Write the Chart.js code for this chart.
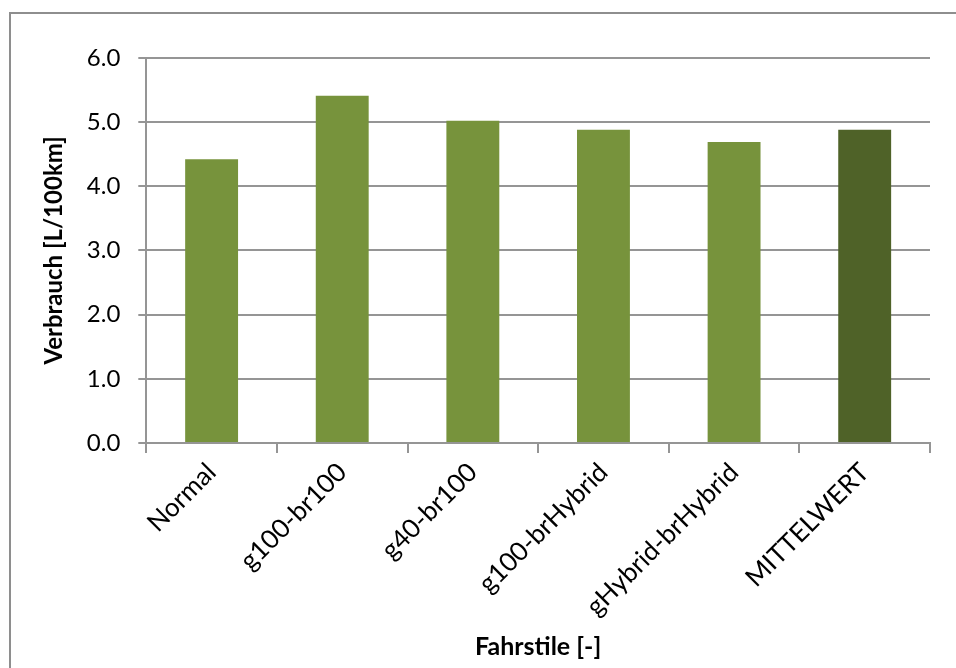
<!DOCTYPE html>
<html lang="de">
<head>
  <meta charset="UTF-8" />
  <title>Verbrauch nach Fahrstil</title>
  <script src="https://cdn.jsdelivr.net/npm/chart.js"></script>
  <style>
    html, body {
      margin: 0;
      padding: 0;
      background: #fff;
      overflow: hidden;
    }

    .frame {
      position: absolute;
      left: 9px;
      top: 12px;
      width: 1000px;
      height: 700px;
      border: 2px solid #8e8e8e;
      box-sizing: border-box;
    }

    .chart-box {
      position: absolute;
      left: 0;
      top: 0;
      width: 956px;
      height: 668px;
    }
  </style>
</head>
<body>
  <div class="frame"></div>
  <div class="chart-box">
    <canvas id="chart"></canvas>
  </div>

  <script>
    const fahrstile = ['Normal', 'g100-br100', 'g40-br100', 'g100-brHybrid', 'gHybrid-brHybrid', 'MITTELWERT'];
    const verbrauch = [4.42, 5.41, 5.02, 4.88, 4.69, 4.88];
    const barColors = ['#77933C', '#77933C', '#77933C', '#77933C', '#77933C', '#4F6228'];

    const fontFamily = "Lato, 'Open Sans', sans-serif";
    const gridColor = '#959595';

    const ctx = document.getElementById('chart').getContext('2d');
    new Chart(ctx, {
      type: 'bar',
      data: {
        labels: fahrstile,
        datasets: [{
          label: 'Verbrauch',
          data: verbrauch,
          backgroundColor: barColors,
          borderWidth: 0,
          barPercentage: 0.405,
          categoryPercentage: 1.0
        }]
      },
      options: {
        responsive: true,
        maintainAspectRatio: false,
        animation: false,
        layout: {
          padding: { top: 58, right: 26, left: 40, bottom: 6 }
        },
        plugins: {
          legend: { display: false },
          tooltip: { enabled: false }
        },
        scales: {
          x: {
            grid: {
              drawOnChartArea: false,
              drawTicks: true,
              tickLength: 10,
              color: gridColor,
              lineWidth: 2
            },
            border: { color: gridColor, width: 2 },
            ticks: {
              minRotation: 45,
              maxRotation: 45,
              color: '#000',
              padding: 4,
              font: { family: fontFamily, size: 26 }
            },
            title: {
              display: true,
              text: 'Fahrstile [-]',
              color: '#000',
              padding: { top: 6, bottom: 0 },
              font: { family: fontFamily, size: 25, weight: 'bold' }
            }
          },
          y: {
            min: 0,
            max: 6,
            grid: {
              drawTicks: true,
              tickLength: 8,
              color: gridColor,
              lineWidth: 2
            },
            border: { color: gridColor, width: 2 },
            ticks: {
              stepSize: 1,
              color: '#000',
              padding: 18,
              callback: v => v.toFixed(1),
              font: { family: fontFamily, size: 24 }
            },
            title: {
              display: true,
              text: 'Verbrauch [L/100km]',
              color: '#000',
              padding: { top: 0, bottom: 0 },
              font: { family: fontFamily, size: 24, weight: 'bold' }
            }
          }
        }
      }
    });
  </script>
</body>
</html>
